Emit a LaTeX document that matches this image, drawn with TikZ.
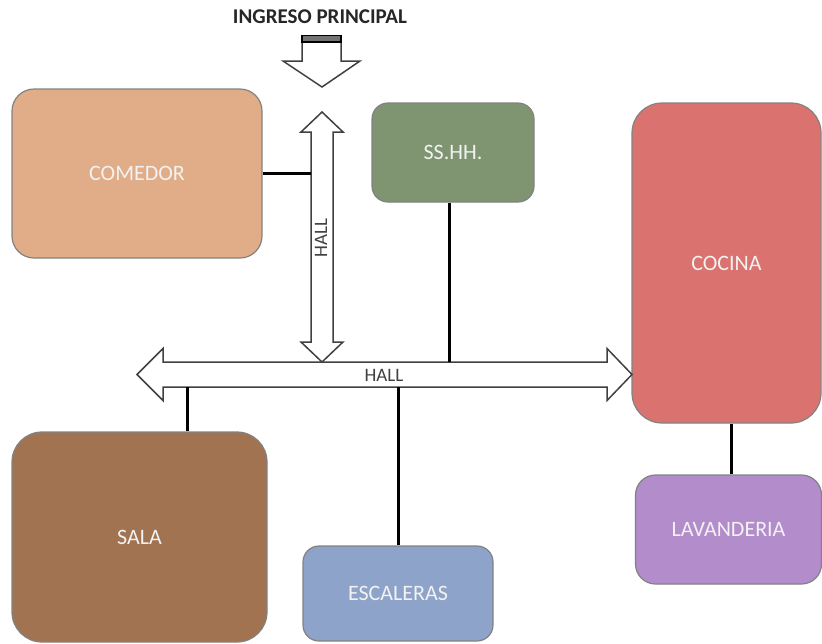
\documentclass[tikz,border=0pt]{standalone}
\usepackage{fontspec}
\setmainfont{Carlito}
\usepackage{tikz}
\usetikzlibrary{positioning}
\definecolor{comedorc}{RGB}{225,172,136}
\definecolor{sshhc}{RGB}{127,148,112}
\definecolor{cocinac}{RGB}{218,114,111}
\definecolor{lavanderiac}{RGB}{179,140,203}
\definecolor{salac}{RGB}{162,115,80}
\definecolor{escalerasc}{RGB}{142,163,201}
\definecolor{edgegray}{RGB}{130,130,130}
\definecolor{hallgray}{RGB}{64,64,64}

\begin{document}
\begin{tikzpicture}[x=0.5pt,y=-0.5pt,
    room/.style={draw=edgegray,line width=0.6pt,text=white!95!black,font=\fontsize{11}{13}\selectfont},
    hallarrow/.style={draw=hallgray,line width=0.75pt,fill=white,line join=miter},
    halltext/.style={text=hallgray,font=\fontsize{9.5}{11}\selectfont,inner sep=1pt},
    link/.style={line width=1.5pt}]
    \useasboundingbox (0,0) rectangle (822,643);
    % rooms
    \node[room,fill=comedorc,minimum width=125pt,minimum height=84.5pt,rounded corners=11pt] (comedor) at (137,173.5) {COMEDOR};
    \node[room,fill=sshhc,minimum width=81pt,minimum height=49.5pt,rounded corners=8pt] (sshh) at (453,152.5) {SS.HH.};
    \node[room,fill=cocinac,minimum width=94.5pt,minimum height=160pt,rounded corners=15pt] (cocina) at (726.5,263) {COCINA};
    \node[room,fill=lavanderiac,minimum width=93pt,minimum height=54.5pt,rounded corners=10pt] (lavanderia) at (728.5,529.5) {LAVANDERIA};
    \node[room,fill=salac,minimum width=127.5pt,minimum height=105pt,rounded corners=15pt] (sala) at (139.5,537) {SALA};
    \node[room,fill=escalerasc,minimum width=95pt,minimum height=47.5pt,rounded corners=8pt] (escaleras) at (398,593.5) {ESCALERAS};
    % entrance
    \node[font=\fontsize{10.5}{12}\selectfont\bfseries,text=black!85] (ingreso) at (320,17) {INGRESO PRINCIPAL};
    \draw[hallarrow] (302,39) -- (341,39) -- (341,61) -- (360,61) -- (322,87) -- (283,61) -- (302,61) -- cycle;
    \draw[fill=black!55,line width=0.7pt] (302,35.5) rectangle (341,42);
    % halls
    \draw[hallarrow] (137,374.5) -- (163,348.5) -- (163,362) -- (607,362) -- (607,348.5) -- (632,374.5)
        -- (607,400.5) -- (607,387) -- (163,387) -- (163,400.5) -- cycle;
    \draw[hallarrow] (322,112) -- (343,132) -- (333,132) -- (333,342) -- (343,342) -- (322,362)
        -- (301,342) -- (311,342) -- (311,132) -- (301,132) -- cycle;
    \node[halltext] (hallh) at (384,375) {HALL};
    \node[halltext,rotate=90] (hallv) at (321,238) {HALL};
    % hall edges
    \coordinate (hvl) at (311,0);
    \coordinate (sstap) at (449,362);
    \coordinate (salatap) at (187,387);
    \coordinate (hhb) at (0,387);
    \coordinate (lavtap) at (731,0);
    % links
    \draw[link] (comedor.east) -- (comedor.east -| hvl);
    \draw[link] (sstap |- sshh.south) -- (sstap);
    \draw[link] (salatap) -- (salatap |- sala.north);
    \draw[link] (escaleras.north |- hhb) -- (escaleras.north);
    \draw[link] (cocina.south -| lavtap) -- (lavanderia.north -| lavtap);
\end{tikzpicture}
\end{document}
